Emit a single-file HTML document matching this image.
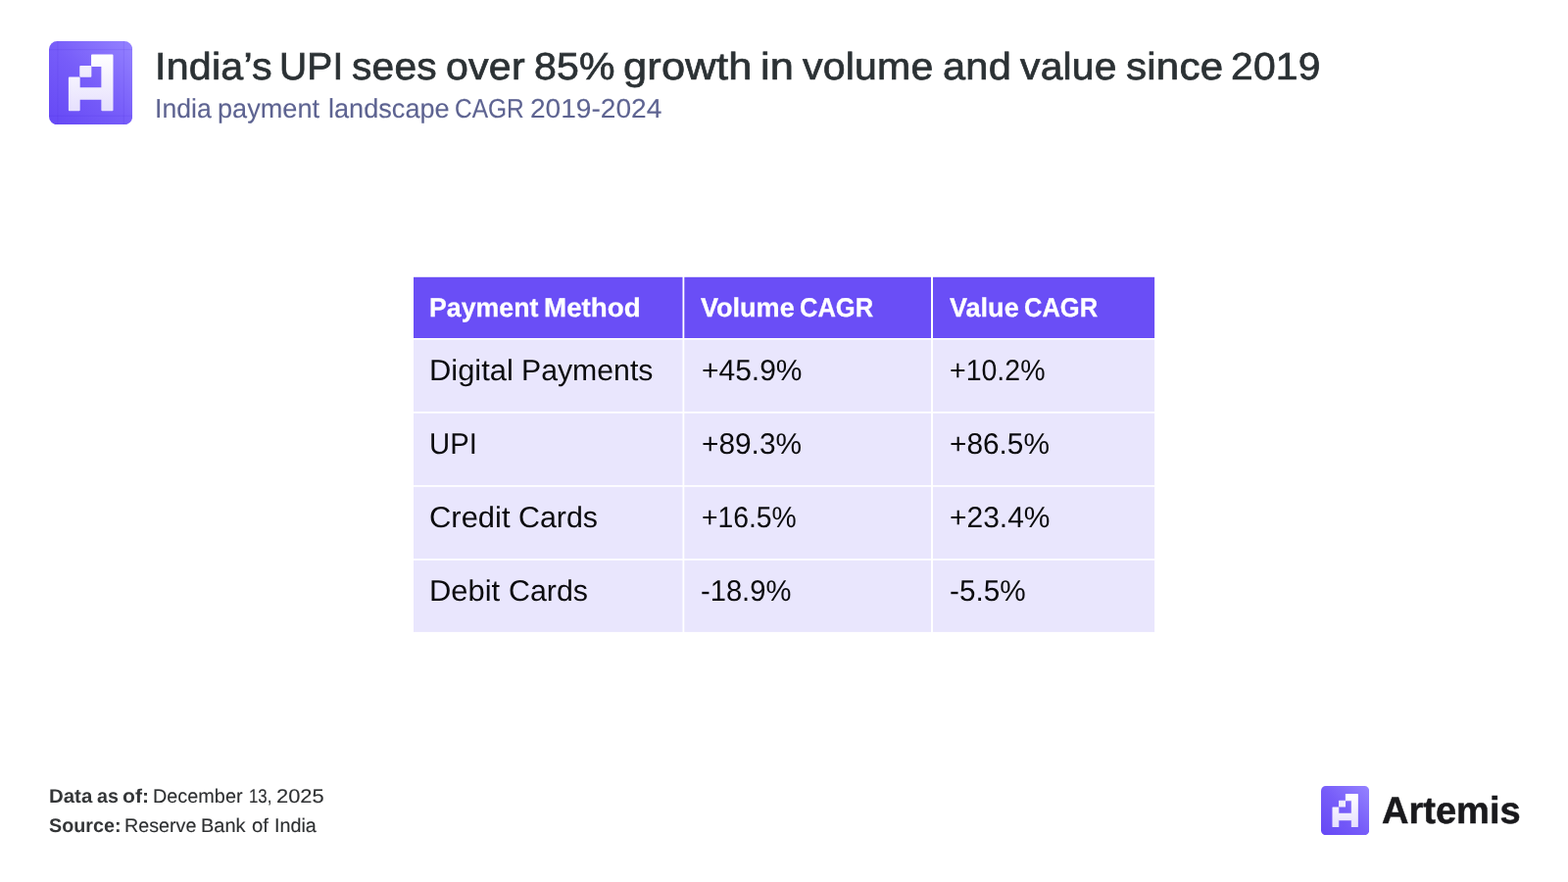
<!DOCTYPE html>
<html lang="en">
<head>
<meta charset="utf-8">
<title>India’s UPI sees over 85% growth in volume and value since 2019</title>
<style>
  html, body { margin: 0; padding: 0; }
  body {
    width: 1600px; height: 900px; overflow: hidden; position: relative;
    background: #ffffff;
    font-family: "Liberation Sans", sans-serif;
    text-rendering: geometricPrecision;
  }
  .ln { position: absolute; left: 0; margin: 0; padding: 0; white-space: nowrap; line-height: 1; width: 1600px; height: 1em; font-weight: normal; }
  .ln span { position: absolute; top: 0; display: inline-block; transform-origin: 0 0; }
  .ln b, .ln i { position: absolute; left: 0; top: 0; font-style: normal; }
  .logo { position: absolute; left: 49.9px; top: 41.6px; width: 85.2px; height: 85.3px; }
  .title { font-size: 39.0px; color: #2b3134; -webkit-text-stroke: 0.7px #2b3134; letter-spacing: 0.2px; }
  .subtitle { font-size: 27.4px; color: #5d6391; -webkit-text-stroke: 0.1px #5d6391; }
  .tablebg { position: absolute; left: 0; top: 0; width: 1600px; height: 900px; }
  .th { font-size: 27.1px; font-weight: bold; color: #ffffff; -webkit-text-stroke: 0.25px #ffffff; }
  .td { font-size: 30.1px; color: #0b0b0e; }
  .foot { font-size: 19.8px; color: #2d2f31; -webkit-text-stroke: 0.12px #2d2f31; }
  .foot b { font-weight: bold; color: #343638; -webkit-text-stroke: 0; }
  .brandlogo { position: absolute; left: 1348.2px; top: 801.8px; width: 49.2px; height: 50.2px; }
  .brand { font-size: 38.5px; font-weight: bold; color: #19191c; -webkit-text-stroke: 0.5px #19191c; }
</style>
</head>
<body>

<svg class="logo" aria-hidden="true" viewBox="0 0 85 85" preserveAspectRatio="none">
  <defs>
    <linearGradient id="lg1" x1="1" y1="0" x2="0" y2="1">
      <stop offset="0" stop-color="#9583ff"/>
      <stop offset="0.5" stop-color="#775df9"/>
      <stop offset="1" stop-color="#6548f5"/>
    </linearGradient>
    <linearGradient id="lg2" gradientUnits="userSpaceOnUse" x1="0" y1="13" x2="0" y2="71">
      <stop offset="0" stop-color="#ffffff"/>
      <stop offset="1" stop-color="#e6e0fd"/>
    </linearGradient>
  </defs>
  <rect x="0" y="0" width="85" height="85" rx="8.3" ry="8.3" fill="url(#lg1)"/>
  <g stroke="#3518c8" stroke-opacity="0.11" stroke-width="0.9" fill="none">
    <path d="M9 0V85M76.2 0V85M0 8.6H85M0 76H85"/>
  </g>
  <g fill="url(#lg2)" stroke="url(#lg2)" stroke-width="1.8" stroke-linejoin="round">
    <path d="M43.85 14.4L64.45 14.4L64.45 70.1L54.15 70.1L54.15 58.6L30.7 58.6L30.7 70.1L20.75 70.1L20.75 37.25L30.7 37.25L30.7 48.1L54.15 48.1L54.15 24.9L43.85 24.9Z"/>
    <path d="M32.1 25.8L42.35 25.8L42.35 35.6L32.1 35.6Z" opacity="0.94"/>
  </g>
</svg>

<h1 class="ln title" style="top:49.0px"><span style="left:158.11px;transform:scaleX(1.0566)">India’s</span> <span style="left:285.43px;transform:scaleX(0.9991)">UPI</span> <span style="left:359.21px;transform:scaleX(1.044)">sees</span> <span style="left:454.66px;transform:scaleX(1.0539)">over</span> <span style="left:544.88px;transform:scaleX(1.0532)">85%</span> <span style="left:636.1px;transform:scaleX(1.112)">growth</span> <span style="left:776.03px;transform:scaleX(1.1127)">in</span> <span style="left:819.49px;transform:scaleX(1.0515)">volume</span> <span style="left:961.58px;transform:scaleX(1.0654)">and</span> <span style="left:1041.2px;transform:scaleX(1.047)">value</span> <span style="left:1148.6px;transform:scaleX(1.078)">since</span> <span style="left:1256.41px;transform:scaleX(1.0463)">2019</span></h1>
<p class="ln subtitle" style="top:97.0px"><span style="left:158.19px;transform:scaleX(0.9714)">India</span> <span style="left:222.48px;transform:scaleX(0.9903)">payment</span> <span style="left:334.54px;transform:scaleX(0.9903)">landscape</span> <span style="left:463.5px;transform:scaleX(0.8938)">CAGR</span> <span style="left:540.77px;transform:scaleX(1.0256)">2019-2024</span></p>

<svg class="tablebg" aria-hidden="true" viewBox="0 0 1600 900">
  <rect x="422" y="282.8" width="756.1" height="62.2" fill="#6a4ef6"/>
  <rect x="422" y="346.5" width="756.1" height="298.4" fill="#e9e6fd"/>
  <g fill="#ffffff">
    <rect x="422" y="420.0" width="756.1" height="1.7"/>
    <rect x="422" y="495.1" width="756.1" height="1.7"/>
    <rect x="422" y="570.1" width="756.1" height="1.7"/>
    <rect x="696.5" y="282" width="1.8" height="364"/>
    <rect x="950.0" y="282" width="2.0" height="364"/>
  </g>
</svg>

<div role="table" aria-label="India payment landscape CAGR 2019-2024">
  <div role="row">
    <div class="ln th" role="columnheader" style="top:300.0px"><span style="left:438.06px;transform:scaleX(0.9867)">Payment</span> <span style="left:555.03px;transform:scaleX(1.0255)">Method</span></div>
    <div class="ln th" role="columnheader" style="top:300.0px"><span style="left:715.45px;transform:scaleX(0.9986)">Volume</span> <span style="left:816.04px;transform:scaleX(0.9423)">CAGR</span></div>
    <div class="ln th" role="columnheader" style="top:300.0px"><span style="left:968.93px;transform:scaleX(0.9984)">Value</span> <span style="left:1044.79px;transform:scaleX(0.9423)">CAGR</span></div>
  </div>
  <div role="row">
    <div class="ln td" role="cell" style="top:364.0px"><span style="left:438.0px;transform:scaleX(1.026)">Digital</span> <span style="left:531.52px;transform:scaleX(1.0048)">Payments</span></div>
    <div class="ln td" role="cell" style="top:364.0px"><span style="left:715.92px;transform:scaleX(0.9959)">+45.9%</span></div>
    <div class="ln td" role="cell" style="top:364.0px"><span style="left:969.23px;transform:scaleX(0.9474)">+10.2%</span></div>
  </div>
  <div role="row">
    <div class="ln td" role="cell" style="top:439.0px"><span style="left:438.17px;transform:scaleX(0.9734)">UPI</span></div>
    <div class="ln td" role="cell" style="top:439.0px"><span style="left:715.82px;transform:scaleX(0.9913)">+89.3%</span></div>
    <div class="ln td" role="cell" style="top:439.0px"><span style="left:969.18px;transform:scaleX(0.9907)">+86.5%</span></div>
  </div>
  <div role="row">
    <div class="ln td" role="cell" style="top:514.0px"><span style="left:438.12px;transform:scaleX(1.0277)">Credit</span> <span style="left:529.36px;transform:scaleX(1.0099)">Cards</span></div>
    <div class="ln td" role="cell" style="top:514.0px"><span style="left:716.0px;transform:scaleX(0.9402)">+16.5%</span></div>
    <div class="ln td" role="cell" style="top:514.0px"><span style="left:969.32px;transform:scaleX(0.9959)">+23.4%</span></div>
  </div>
  <div role="row">
    <div class="ln td" role="cell" style="top:589.0px"><span style="left:438.06px;transform:scaleX(1.0277)">Debit</span> <span style="left:518.93px;transform:scaleX(1.0099)">Cards</span></div>
    <div class="ln td" role="cell" style="top:589.0px"><span style="left:715.36px;transform:scaleX(0.9685)">-18.9%</span></div>
    <div class="ln td" role="cell" style="top:589.0px"><span style="left:968.55px;transform:scaleX(0.9863)">-5.5%</span></div>
  </div>
</div>

<div class="ln foot" style="top:804.0px"><b><span style="left:50.1px;transform:scaleX(1.0326)">Data</span> <span style="left:99.05px;transform:scaleX(0.9936)">as</span> <span style="left:125.26px;transform:scaleX(1.0689)">of:</span></b> <span style="left:155.92px;transform:scaleX(1.0033)">December</span> <span style="left:254.34px;transform:scaleX(0.8505)">13,</span> <span style="left:282.01px;transform:scaleX(1.1061)">2025</span></div>
<div class="ln foot" style="top:834.0px"><b><span style="left:50.36px;transform:scaleX(0.9975)">Source:</span></b> <span style="left:127.45px;transform:scaleX(0.9957)">Reserve</span> <span style="left:205.33px;transform:scaleX(1.0096)">Bank</span> <span style="left:257.36px;transform:scaleX(1.0305)">of</span> <span style="left:279.89px;transform:scaleX(0.9988)">India</span></div>

<svg class="brandlogo" aria-hidden="true" viewBox="0 0 85 85" preserveAspectRatio="none">
  <rect x="0" y="0" width="85" height="85" rx="8.3" ry="8.3" fill="url(#lg1)"/>
  <g fill="url(#lg2)" stroke="url(#lg2)" stroke-width="1.8" stroke-linejoin="round">
    <path d="M43.85 14.4L64.45 14.4L64.45 70.1L54.15 70.1L54.15 58.6L30.7 58.6L30.7 70.1L20.75 70.1L20.75 37.25L30.7 37.25L30.7 48.1L54.15 48.1L54.15 24.9L43.85 24.9Z"/>
    <path d="M32.1 25.8L42.35 25.8L42.35 35.6L32.1 35.6Z" opacity="0.94"/>
  </g>
</svg>
<div class="ln brand" style="top:809.0px"><span style="left:1409.68px;transform:scaleX(0.9879)">Artemis</span></div>

</body>
</html>
